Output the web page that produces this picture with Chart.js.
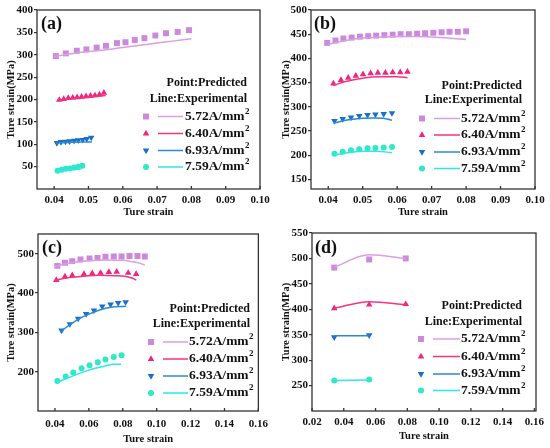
<!DOCTYPE html>
<html><head><meta charset="utf-8">
<script src="https://cdn.jsdelivr.net/npm/chart.js@4.4.0/dist/chart.umd.min.js"></script>
<style>
html,body{margin:0;padding:0;background:#fff;}
#wrap{position:relative;width:550px;height:448px;overflow:hidden;}
.pn{position:absolute;width:275px;height:224px;}
</style></head><body>
<div id="wrap">
<div class="pn" style="left:0;top:0"><canvas id="ca" width="275" height="224"></canvas></div>
<div class="pn" style="left:275px;top:0"><canvas id="cb" width="275" height="224"></canvas></div>
<div class="pn" style="left:0;top:224px"><canvas id="cc" width="275" height="224"></canvas></div>
<div class="pn" style="left:275px;top:224px"><canvas id="cd" width="275" height="224"></canvas></div>
</div>
<script>
// ---------- DATA ----------
const seriesNames = ['5.72A/mm', '6.40A/mm', '6.93A/mm', '7.59A/mm'];
const xTitle = 'Ture strain';
const yTitle = 'Ture strain(MPa)';

// Panel (a)
const aXTicks = [0.04, 0.05, 0.06, 0.07, 0.08, 0.09, 0.10];
const aYTicks = [50, 100, 150, 200, 250, 300, 350, 400];
const a572PX = [0.0405, 0.0434, 0.0466, 0.0494, 0.0524, 0.0551, 0.0583, 0.0608, 0.0635, 0.0663, 0.0695, 0.0726, 0.0760, 0.0793];
const a572PY = [297, 303, 309, 312, 316, 320, 326, 328, 333, 337, 343, 348, 351, 355];
const a572LX = [0.040, 0.045, 0.050, 0.055, 0.060, 0.065, 0.070, 0.075, 0.080];
const a572LY = [296, 302, 307, 311, 316, 321, 326, 331, 336];
const a640PX = [0.0415, 0.0428, 0.0441, 0.0454, 0.0467, 0.0480, 0.0493, 0.0506, 0.0519, 0.0532, 0.0545];
const a640PY = [199, 201, 203, 204, 205, 206, 207, 208, 209, 211, 215];
const a640LX = [0.041, 0.045, 0.050, 0.055];
const a640LY = [198, 201.5, 205, 209];
const a693PX = [0.0408, 0.0420, 0.0433, 0.0445, 0.0458, 0.0470, 0.0483, 0.0495, 0.0508];
const a693PY = [103, 105, 106, 107, 108, 109, 110, 112, 115];
const a693LX = [0.0405, 0.044, 0.048, 0.051];
const a693LY = [103, 104, 105, 105];
const a759PX = [0.0410, 0.0422, 0.0434, 0.0446, 0.0458, 0.0470, 0.0482];
const a759PY = [41, 43, 45, 46, 48, 50, 52];
const a759LX = [0.041, 0.0445, 0.048];
const a759LY = [40, 43, 45];

// Panel (b)
const bXTicks = [0.04, 0.05, 0.06, 0.07, 0.08, 0.09, 0.10];
const bYTicks = [150, 200, 250, 300, 350, 400, 450, 500];
const b572PX = [0.0397, 0.0421, 0.0444, 0.0468, 0.0492, 0.0516, 0.0539, 0.0563, 0.0587, 0.0610, 0.0634, 0.0658, 0.0681, 0.0705, 0.0729, 0.0752, 0.0776, 0.0800];
const b572PY = [432, 437, 441, 443, 445, 446, 447, 448, 449, 450, 450, 451, 452, 453, 454, 455, 455, 456];
const b572LX = [0.040, 0.045, 0.050, 0.055, 0.060, 0.065, 0.070, 0.075, 0.080];
const b572LY = [429, 437, 442, 444, 445, 445, 444, 442, 439];
const b640PX = [0.0415, 0.0437, 0.0458, 0.0480, 0.0501, 0.0523, 0.0544, 0.0566, 0.0587, 0.0609, 0.0630];
const b640PY = [348, 355, 360, 364, 367, 369, 370, 370, 371, 371, 372];
const b640LX = [0.0415, 0.045, 0.050, 0.055, 0.060, 0.063];
const b640LY = [344, 352, 359, 362, 362, 360];
const b693PX = [0.0418, 0.0442, 0.0466, 0.0490, 0.0514, 0.0537, 0.0561, 0.0585];
const b693PY = [271, 275, 278, 281, 283, 284, 285, 287];
const b693LX = [0.0415, 0.045, 0.050, 0.053, 0.056, 0.0585];
const b693LY = [266, 272, 276, 277, 276, 272];
const b759PX = [0.0418, 0.0442, 0.0466, 0.0490, 0.0514, 0.0537, 0.0561, 0.0585];
const b759PY = [203, 207, 210, 212, 214, 215, 216, 217];
const b759LX = [0.0415, 0.045, 0.050, 0.054, 0.0585];
const b759LY = [200, 204, 208, 208, 205];

// Panel (c)
const cXTicks = [0.04, 0.06, 0.08, 0.10, 0.12, 0.14, 0.16];
const cYTicks = [200, 300, 400, 500];
const c572PX = [0.0414, 0.0459, 0.0502, 0.0551, 0.0604, 0.0651, 0.0698, 0.0747, 0.0793, 0.0840, 0.0887, 0.0930];
const c572PY = [469, 477, 481, 485, 488, 489, 492, 493, 493, 494, 494, 493];
const c572LX = [0.040, 0.045, 0.050, 0.060, 0.070, 0.080, 0.085, 0.090, 0.093];
const c572LY = [467, 473, 477, 482, 484, 483, 480, 476, 471];
const c640PX = [0.0408, 0.0459, 0.0502, 0.0571, 0.0620, 0.0669, 0.0718, 0.0764, 0.0832, 0.0879];
const c640PY = [433, 442, 445, 448, 450, 451, 453, 454, 451, 448];
const c640LX = [0.040, 0.045, 0.050, 0.060, 0.066, 0.075, 0.082, 0.0855, 0.088];
const c640LY = [432, 437, 440, 444, 445, 444, 442, 438, 433];
const c693PX = [0.0439, 0.0488, 0.0537, 0.0584, 0.0630, 0.0679, 0.0728, 0.0773, 0.0817];
const c693PY = [305, 321, 335, 347, 356, 366, 371, 375, 377];
const c693LX = [0.0435, 0.050, 0.055, 0.060, 0.065, 0.070, 0.075, 0.082];
const c693LY = [303, 323, 336, 346, 355, 361, 365, 366];
const c759PX = [0.0414, 0.0463, 0.0508, 0.0557, 0.0604, 0.0653, 0.0698, 0.0747, 0.0793];
const c759PY = [176, 188, 198, 209, 216, 224, 231, 237, 242];
const c759LX = [0.041, 0.050, 0.060, 0.070, 0.075, 0.079];
const c759LY = [172, 188, 204, 215, 219, 219];

// Panel (d)
const dXTicks = [0.02, 0.04, 0.06, 0.08, 0.10, 0.12, 0.14, 0.16];
const dYTicks = [250, 300, 350, 400, 450, 500, 550];
const d3X = [0.034, 0.056, 0.079];
const d2X = [0.034, 0.056];
const d572PY = [482, 498, 500];
const d572LY = [483, 507, 500];
const d640PY = [402, 409, 410];
const d640LY = [402, 415, 409];
const d693PY = [345, 349];
const d693LY = [348, 348];
const d759PY = [260, 262];
const d759LY = [260, 261];

// ---------- STYLE ----------
const FONT = '"Liberation Serif", "Times New Roman", serif';
const pointColors = ['#CC88DD', '#F0257F', '#1C6FC8', '#2EE8C6'];
const lineColors = ['#DA9EE6', '#F5347E', '#2A88D8', '#2DE6EE'];
const pointStyles = [
  {pointStyle: 'rect', radius: 4.2, rotation: 0},
  {pointStyle: 'triangle', radius: 3.8, rotation: 0},
  {pointStyle: 'triangle', radius: 3.8, rotation: 180},
  {pointStyle: 'circle', radius: 3, rotation: 0}
];

const zip = (xs, ys) => xs.map((x, i) => ({x: x, y: ys[i]}));

function makeSets(list) {
  const sets = [];
  list.forEach((s, i) => {
    sets.push({
      data: zip(s.lx, s.ly), showLine: true, borderColor: lineColors[i], borderWidth: 1.5,
      pointRadius: 0, tension: 0.4, cubicInterpolationMode: 'monotone', fill: false
    });
  });
  list.forEach((s, i) => {
    const ps = pointStyles[i];
    sets.push({
      data: zip(s.px, s.py), showLine: false, pointStyle: ps.pointStyle, pointRadius: ps.radius,
      rotation: ps.rotation, backgroundColor: pointColors[i], borderColor: pointColors[i], borderWidth: 0
    });
  });
  return sets;
}

const decoPlugin = {
  id: 'deco',
  afterDraw(chart, args, o) {
    const {ctx, chartArea: ca, scales} = chart;
    ctx.save();
    ctx.strokeStyle = '#333';
    ctx.lineWidth = 1.3;
    ctx.strokeRect(ca.left, ca.top, ca.right - ca.left, ca.bottom - ca.top);
    const xs = scales.x;
    xs.ticks.forEach(t => {
      const px = xs.getPixelForValue(t.value);
      ctx.beginPath(); ctx.moveTo(px, ca.bottom); ctx.lineTo(px, ca.bottom - 3); ctx.stroke();
    });
    ctx.fillStyle = '#111';
    ctx.textBaseline = 'middle';
    ctx.textAlign = 'left';
    ctx.font = 'bold 18px ' + FONT;
    ctx.fillText(o.tag, o.tagX, o.tagY);
    ctx.textAlign = 'right';
    ctx.font = 'bold 12px ' + FONT;
    ctx.fillText('Point:Predicted', o.hdrX, o.hdrY1);
    ctx.fillText('Line:Experimental', o.hdrX, o.hdrY2);
    o.rows.forEach((ry, i) => {
      const ps = pointStyles[i];
      ctx.fillStyle = pointColors[i];
      ctx.strokeStyle = pointColors[i];
      Chart.helpers.drawPoint(ctx, {pointStyle: ps.pointStyle, radius: ps.radius, rotation: ps.rotation, borderWidth: 0}, o.mX, ry);
      ctx.strokeStyle = lineColors[i];
      ctx.lineWidth = 1.5;
      ctx.beginPath(); ctx.moveTo(o.l1, ry); ctx.lineTo(o.l2, ry); ctx.stroke();
      ctx.fillStyle = '#111';
      ctx.textAlign = 'left';
      ctx.font = 'bold 13.5px ' + FONT;
      ctx.fillText(seriesNames[i], o.tX, ry);
      const w = ctx.measureText(seriesNames[i]).width;
      ctx.font = 'bold 9px ' + FONT;
      ctx.fillText('2', o.tX + w + 0.5, ry - 5);
    });
    ctx.restore();
  }
};

function makeChart(id, cfg) {
  new Chart(document.getElementById(id), {
    type: 'scatter',
    data: {datasets: makeSets(cfg.series)},
    plugins: [decoPlugin],
    options: {
      responsive: false, animation: false, devicePixelRatio: 1,
      layout: {padding: {left: 0, top: cfg.area.top, right: 275 - cfg.area.right, bottom: 0}},
      plugins: {legend: {display: false}, tooltip: {enabled: false}, deco: cfg.deco},
      scales: {
        x: {
          type: 'linear', min: cfg.xMin, max: cfg.xMax,
          afterBuildTicks: s => { s.ticks = cfg.xTicks.map(v => ({value: v})); },
          afterFit: s => { s.height = 224 - cfg.area.bottom; },
          grid: {display: false, drawTicks: false, tickLength: 0}, border: {display: false},
          ticks: {padding: cfg.xTickPad, color: '#111', font: {family: FONT, size: 11, weight: 'bold'}, callback: v => v.toFixed(2), maxRotation: 0, autoSkip: false},
          title: {display: true, text: xTitle, color: '#111', font: {family: FONT, size: 10.5, weight: 'bold'}, padding: {top: 0, bottom: cfg.xTitlePad}}
        },
        y: {
          type: 'linear', min: cfg.yMin, max: cfg.yMax,
          afterBuildTicks: s => { s.ticks = cfg.yTicks.map(v => ({value: v})); },
          afterFit: s => { s.width = cfg.area.left; },
          grid: {display: true, drawOnChartArea: false, drawTicks: true, tickLength: 3, color: '#333', lineWidth: 1.2},
          border: {display: false},
          ticks: {padding: 1, color: '#111', font: {family: FONT, size: 11, weight: 'bold'}, callback: v => String(v), autoSkip: false},
          title: {display: true, text: yTitle, color: '#111', font: {family: FONT, size: 10.5, weight: 'bold'}, padding: {top: 5, bottom: 0}}
        }
      }
    }
  });
}

makeChart('ca', {
  area: {left: 37, top: 10, right: 260, bottom: 189}, xMin: 0.035, xMax: 0.10, yMin: 0, yMax: 400,
  xTicks: aXTicks, yTicks: aYTicks, xTitlePad: 5, xTickPad: 5,
  series: [
    {px: a572PX, py: a572PY, lx: a572LX, ly: a572LY},
    {px: a640PX, py: a640PY, lx: a640LX, ly: a640LY},
    {px: a693PX, py: a693PY, lx: a693LX, ly: a693LY},
    {px: a759PX, py: a759PY, lx: a759LX, ly: a759LY}
  ],
  deco: {tag: '(a)', tagX: 41, tagY: 24, hdrX: 247, hdrY1: 83, hdrY2: 99, rows: [116.5, 133.5, 150.5, 167], mX: 146, l1: 158, l2: 183, tX: 185}
});
makeChart('cb', {
  area: {left: 36, top: 10, right: 260, bottom: 189}, xMin: 0.035, xMax: 0.10, yMin: 130, yMax: 500,
  xTicks: bXTicks, yTicks: bYTicks, xTitlePad: 5, xTickPad: 5,
  series: [
    {px: b572PX, py: b572PY, lx: b572LX, ly: b572LY},
    {px: b640PX, py: b640PY, lx: b640LX, ly: b640LY},
    {px: b693PX, py: b693PY, lx: b693LX, ly: b693LY},
    {px: b759PX, py: b759PY, lx: b759LX, ly: b759LY}
  ],
  deco: {tag: '(b)', tagX: 39, tagY: 24, hdrX: 247, hdrY1: 86, hdrY2: 100, rows: [118.5, 135, 152, 168.5], mX: 147, l1: 159, l2: 185, tX: 186}
});
makeChart('cc', {
  area: {left: 38, top: 10, right: 261, bottom: 187}, xMin: 0.03, xMax: 0.16, yMin: 100, yMax: 550,
  xTicks: cXTicks, yTicks: cYTicks, xTitlePad: 2, xTickPad: 7,
  series: [
    {px: c572PX, py: c572PY, lx: c572LX, ly: c572LY},
    {px: c640PX, py: c640PY, lx: c640LX, ly: c640LY},
    {px: c693PX, py: c693PY, lx: c693LX, ly: c693LY},
    {px: c759PX, py: c759PY, lx: c759LX, ly: c759LY}
  ],
  deco: {tag: '(c)', tagX: 42, tagY: 24, hdrX: 250, hdrY1: 85, hdrY2: 99.5, rows: [118, 135, 152, 169], mX: 151, l1: 163, l2: 188, tX: 189}
});
makeChart('cd', {
  area: {left: 37, top: 9, right: 261, bottom: 187}, xMin: 0.02, xMax: 0.161, yMin: 200, yMax: 550,
  xTicks: dXTicks, yTicks: dYTicks, xTitlePad: 5, xTickPad: 5,
  series: [
    {px: d3X, py: d572PY, lx: d3X, ly: d572LY},
    {px: d3X, py: d640PY, lx: d3X, ly: d640LY},
    {px: d2X, py: d693PY, lx: d2X, ly: d693LY},
    {px: d2X, py: d759PY, lx: d2X, ly: d759LY}
  ],
  deco: {tag: '(d)', tagX: 40, tagY: 24, hdrX: 247, hdrY1: 82, hdrY2: 97.5, rows: [115, 132.5, 150, 166.5], mX: 146, l1: 158, l2: 185, tX: 186}
});
</script>
</body></html>
